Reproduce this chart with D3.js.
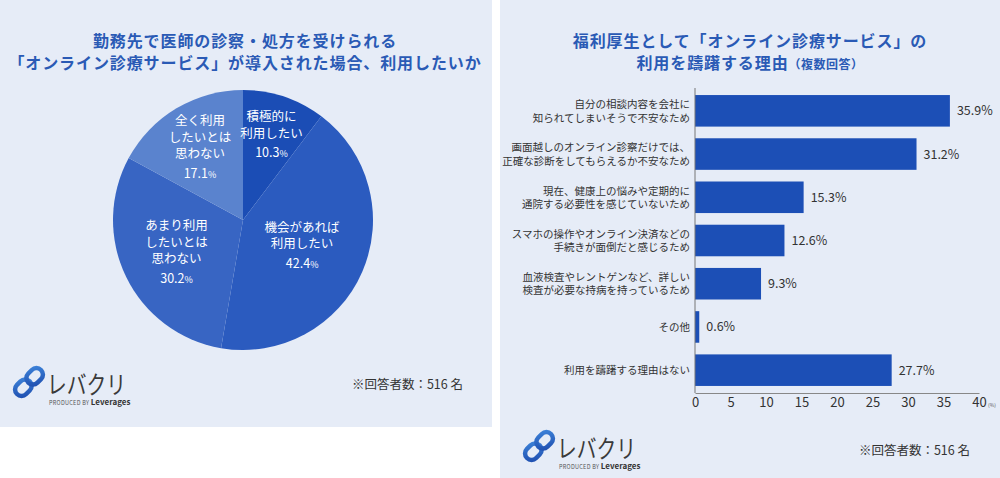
<!DOCTYPE html>
<html>
<head>
<meta charset="utf-8">
<script src="https://cdn.jsdelivr.net/npm/d3@7"></script>
<style>
  body { margin: 0; background: #fff; }
  svg { display: block; font-family: "Noto Sans CJK JP", "Noto Sans", sans-serif; }
</style>
</head>
<body>
<svg id="chart" width="1000" height="478"></svg>
<script>
// left: pie
const pieTitle = ["勤務先で医師の診察・処方を受けられる", "「オンライン診療サービス」が導入された場合、利用したいか"];
const pieLabels = [["積極的に", "利用したい"], ["機会があれば", "利用したい"], ["あまり利用", "したいとは", "思わない"], ["全く利用", "したいとは", "思わない"]];
const pieValues = [10.3, 42.4, 30.2, 17.1];
const pieColors = ["#1b4db5", "#2b5bbf", "#3865c3", "#5a83ce"];

// right: bars
const barTitle = ["福利厚生として「オンライン診療サービス」の", "利用を躊躇する理由"];
const barLabels = [
  ["自分の相談内容を会社に", "知られてしまいそうで不安なため"],
  ["画面越しのオンライン診察だけでは、", "正確な診断をしてもらえるか不安なため"],
  ["現在、健康上の悩みや定期的に", "通院する必要性を感じていないため"],
  ["スマホの操作やオンライン決済などの", "手続きが面倒だと感じるため"],
  ["血液検査やレントゲンなど、詳しい", "検査が必要な持病を持っているため"],
  ["その他"],
  ["利用を躊躇する理由はない"]
];
const barValues = [35.9, 31.2, 15.3, 12.6, 9.3, 0.6, 27.7];
const xTicks = [0, 5, 10, 15, 20, 25, 30, 35, 40];
const note = "※回答者数：516 名";

const svg = d3.select("#chart");
const bg = "#e6ecf7", titleColor = "#2a5ab5", textColor = "#333";

// panels
svg.append("rect").attr("x", 0).attr("y", 0).attr("width", 492).attr("height", 427).attr("fill", bg);
svg.append("rect").attr("x", 500).attr("y", 0).attr("width", 500).attr("height", 478).attr("fill", bg);

function title(g, lines, cx, y0) {
  lines.forEach((l, i) => {
    g.append("text").attr("x", cx).attr("y", y0 + i * 22)
      .attr("text-anchor", "middle").attr("fill", titleColor)
      .attr("font-size", 16).attr("font-weight", 700).attr("letter-spacing", 0.9)
      .text(l);
  });
}

title(svg, pieTitle, 245, 47);
const t2 = svg.append("g");
title(t2, barTitle, 750, 47);
// (複数回答) appended to the second line
t2.selectAll("text").filter((d, i) => i === 1)
  .append("tspan").attr("font-size", 12).attr("letter-spacing", 0.5).text("（複数回答）");

// ---- pie ----
const cx = 243, cy = 220, R = 130;
const pie = d3.pie().sort(null).value(d => d);
const arc = d3.arc().innerRadius(0).outerRadius(R);
const arcs = pie(pieValues);
const pg = svg.append("g").attr("transform", `translate(${cx},${cy})`);

pg.selectAll("path.slice").data(arcs).enter().append("path")
  .attr("class", "slice").attr("d", arc)
  .attr("fill", (d, i) => pieColors[i]);

arcs.forEach((d, i) => {
  const lr = R * (0.75 - 0.006 * d.data);
  const la = d3.arc().innerRadius(lr).outerRadius(lr);
  const [x, y] = la.centroid(d);
  const lines = pieLabels[i];
  const h = lines.length * 16.5 + 19;
  const top = y - h / 2 + 12;
  const t = pg.append("text").attr("text-anchor", "middle").attr("fill", "#fff").attr("font-size", 12.5);
  lines.forEach((l, j) => {
    t.append("tspan").attr("x", x).attr("y", top + j * 16.5).text(l);
  });
  const pt = t.append("tspan").attr("x", x).attr("y", top + lines.length * 16.5 + 3);
  pt.append("tspan").text(d.data.toFixed(1));
  pt.append("tspan").attr("font-size", 9).text("%");
});

// ---- bars ----
const x = d3.scaleLinear().domain([0, 40]).range([695, 979]);
const y = d3.scaleBand().domain(d3.range(barValues.length)).range([89, 392]).paddingInner(0.27).paddingOuter(0.14);
const bg2 = svg.append("g");

bg2.selectAll("rect.bar").data(barValues).enter().append("rect")
  .attr("class", "bar")
  .attr("x", x(0)).attr("y", (d, i) => y(i))
  .attr("width", d => x(d) - x(0)).attr("height", y.bandwidth())
  .attr("fill", "#1c4fb6");

bg2.selectAll("text.val").data(barValues).enter().append("text")
  .attr("class", "val")
  .attr("x", d => x(d) + 7).attr("y", (d, i) => y(i) + y.bandwidth() / 2 + 4.5)
  .attr("font-size", 12.5).attr("fill", textColor)
  .text(d => d.toFixed(1) + "%");

barLabels.forEach((lines, i) => {
  const mid = y(i) + y.bandwidth() / 2;
  const t = bg2.append("text").attr("text-anchor", "end").attr("font-size", 10.5).attr("fill", textColor);
  lines.forEach((l, j) => {
    t.append("tspan").attr("x", 690).attr("y", mid + 4 + (j - (lines.length - 1) / 2) * 13.5).text(l);
  });
});

// y axis line
bg2.append("line").attr("x1", x(0)).attr("x2", x(0)).attr("y1", 88).attr("y2", 393)
  .attr("stroke", "#777").attr("stroke-width", 1);

const xAxis = bg2.append("g").attr("transform", "translate(0,393)")
  .call(d3.axisBottom(x).tickValues(xTicks).tickSize(0).tickPadding(5));
xAxis.select(".domain").attr("stroke", "#888");
xAxis.selectAll("text").attr("font-size", 13).attr("fill", textColor)
  .attr("font-family", "'Noto Sans CJK JP', sans-serif");
bg2.append("text").attr("x", x(40) + 9).attr("y", 407).attr("font-size", 5).attr("fill", "#555").text("(%)");

// ---- logos and notes ----
function logo(px, py) {
  const g = svg.append("g").attr("transform", `translate(${px},${py})`);
  const grad = "lg" + px;
  const defs = svg.append("defs");
  const lg = defs.append("linearGradient").attr("id", grad).attr("x1", "0").attr("y1", "1").attr("x2", "1").attr("y2", "0");
  lg.append("stop").attr("offset", "0").attr("stop-color", "#1f4fb0");
  lg.append("stop").attr("offset", "1").attr("stop-color", "#3d82d8");
  const ic = g.append("g").attr("transform", "translate(16,15) rotate(-45)");
  ic.append("rect").attr("x", -17).attr("y", -6.5).attr("width", 18).attr("height", 13).attr("rx", 6.5)
    .attr("fill", "none").attr("stroke", `url(#${grad})`).attr("stroke-width", 4.5);
  ic.append("rect").attr("x", -1).attr("y", -6.5).attr("width", 18).attr("height", 13).attr("rx", 6.5)
    .attr("fill", "none").attr("stroke", `url(#${grad})`).attr("stroke-width", 4.5);
  g.append("text").attr("x", 34).attr("y", 27).attr("font-size", 25).attr("fill", "#3a3a3a")
    .attr("textLength", 79).attr("lengthAdjust", "spacingAndGlyphs").text("レバクリ");
  const s = g.append("text").attr("x", 36).attr("y", 37.5).attr("fill", "#555");
  s.append("tspan").attr("font-size", 5.5).attr("letter-spacing", 0.3).text("PRODUCED BY ");
  s.append("tspan").attr("font-size", 8).attr("font-weight", 700).attr("fill", "#333").text("Leverages");
}
logo(13, 367);
logo(523, 431);

svg.append("text").attr("x", 463).attr("y", 389).attr("text-anchor", "end")
  .attr("font-size", 12.5).attr("fill", textColor).text(note);
svg.append("text").attr("x", 970).attr("y", 455).attr("text-anchor", "end")
  .attr("font-size", 12.5).attr("fill", textColor).text(note);
</script>
</body>
</html>
